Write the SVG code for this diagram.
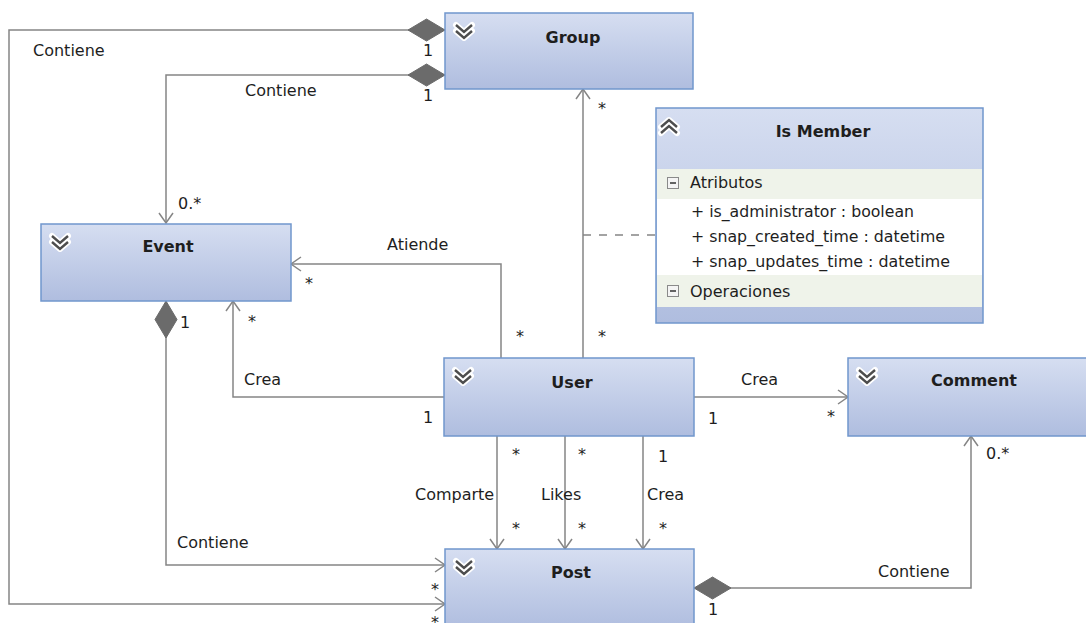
<svg xmlns="http://www.w3.org/2000/svg" xmlns:xlink="http://www.w3.org/1999/xlink" width="1086" height="623" viewBox="0 0 1086 623">
<defs>
<linearGradient id="boxg" x1="0" y1="0" x2="0" y2="1">
<stop offset="0" stop-color="#d6def1"/>
<stop offset="1" stop-color="#afbddf"/>
</linearGradient>
<marker id="arr" markerUnits="userSpaceOnUse" markerWidth="24" markerHeight="24" refX="0" refY="0" viewBox="-12 -12 24 24" orient="auto" overflow="visible">
<path d="M-10,-7 L0,0 L-10,7" fill="none" stroke="#858585" stroke-width="1.5"/>
</marker>
<marker id="dia" markerUnits="userSpaceOnUse" markerWidth="40" markerHeight="24" refX="0" refY="0" viewBox="0 -12 40 24" orient="auto" overflow="visible">
<path d="M0,0 L18.5,-11 L37,0 L18.5,11 Z" fill="#6b6b6b" stroke="#6b6b6b" stroke-width="1"/>
</marker>
<g id="chev">
<path d="M11,12 L19,19 L27,12 M11,18 L19,25 L27,18" fill="none" stroke="#ffffff" stroke-width="6" stroke-linejoin="round" stroke-linecap="round"/>
<path d="M11,12 L19,19 L27,12 M11,18 L19,25 L27,18" fill="none" stroke="#4d4d4d" stroke-width="2.4"/>
</g>
<g id="chevup">
<path d="M11,19 L19,12 L27,19 M11,25 L19,18 L27,25" fill="none" stroke="#ffffff" stroke-width="6" stroke-linejoin="round" stroke-linecap="round"/>
<path d="M11,19 L19,12 L27,19 M11,25 L19,18 L27,25" fill="none" stroke="#4d4d4d" stroke-width="2.4"/>
</g>
</defs>
<style>
.box{fill:url(#boxg);stroke:#7097cd;stroke-width:1.5}
.title{font-family:"DejaVu Sans",Verdana,sans-serif;font-weight:bold;font-size:16px;fill:#1e1e1e;text-anchor:middle}
.lbl{font-family:"DejaVu Sans",Verdana,sans-serif;font-size:16px;fill:#1e1e1e}
.mid{text-anchor:middle}
.ln{fill:none;stroke:#858585;stroke-width:1.5}
.comp{fill:#eff3ea}
.attr{font-family:"DejaVu Sans",Verdana,sans-serif;font-size:16px;fill:#1e1e1e}
</style>
<rect width="1086" height="623" fill="#ffffff"/>

<g id="connectors">
<path class="ln" d="M445,30 H9 V604 H445" marker-start="url(#dia)" marker-end="url(#arr)"/>
<path class="ln" d="M445,75 H166 V223" marker-start="url(#dia)" marker-end="url(#arr)"/>
<path class="ln" d="M583,358 V89" marker-end="url(#arr)"/>
<path class="ln" d="M583,235 H656" stroke-dasharray="8,8"/>
<path class="ln" d="M501,358 V264 H291" marker-end="url(#arr)"/>
<path class="ln" d="M444,397 H233 V301" marker-end="url(#arr)"/>
<path class="ln" d="M166,301 V565 H445" marker-start="url(#dia)" marker-end="url(#arr)"/>
<path class="ln" d="M694,397 H848" marker-end="url(#arr)"/>
<path class="ln" d="M497,436 V549" marker-end="url(#arr)"/>
<path class="ln" d="M565,436 V549" marker-end="url(#arr)"/>
<path class="ln" d="M643,436 V549" marker-end="url(#arr)"/>
<path class="ln" d="M694,588 H971 V436" marker-start="url(#dia)" marker-end="url(#arr)"/>

<text class="lbl" x="33" y="56">Contiene</text>
<text class="lbl mid" x="428" y="56">1</text>
<text class="lbl" x="245" y="96">Contiene</text>
<text class="lbl mid" x="428" y="101">1</text>
<text class="lbl" x="178" y="209">0.*</text>
<text class="lbl mid" x="602" y="114">*</text>
<text class="lbl mid" x="602" y="342">*</text>
<text class="lbl" x="387" y="250">Atiende</text>
<text class="lbl mid" x="309" y="289">*</text>
<text class="lbl mid" x="520" y="342">*</text>
<text class="lbl" x="244" y="385">Crea</text>
<text class="lbl mid" x="252" y="327">*</text>
<text class="lbl mid" x="428" y="423">1</text>
<text class="lbl" x="177" y="548">Contiene</text>
<text class="lbl mid" x="185" y="328">1</text>
<text class="lbl mid" x="435" y="595">*</text>
<text class="lbl mid" x="435" y="628">*</text>
<text class="lbl" x="741" y="385">Crea</text>
<text class="lbl mid" x="713" y="424">1</text>
<text class="lbl mid" x="831" y="422">*</text>
<text class="lbl" x="415" y="500">Comparte</text>
<text class="lbl mid" x="516" y="460">*</text>
<text class="lbl mid" x="516" y="534">*</text>
<text class="lbl" x="541" y="500">Likes</text>
<text class="lbl mid" x="582" y="460">*</text>
<text class="lbl mid" x="582" y="534">*</text>
<text class="lbl" x="647" y="500">Crea</text>
<text class="lbl mid" x="663" y="462">1</text>
<text class="lbl mid" x="663" y="534">*</text>
<text class="lbl" x="878" y="577">Contiene</text>
<text class="lbl mid" x="713" y="615">1</text>
<text class="lbl" x="986" y="459">0.*</text>
</g>

<g id="node-group">
<rect class="box" x="445" y="13" width="248" height="76"/>
<use xlink:href="#chev" href="#chev" transform="translate(445,13)"/>
<text class="title" x="573" y="43">Group</text>
</g>

<g id="node-event">
<rect class="box" x="41" y="224" width="250" height="77"/>
<use xlink:href="#chev" href="#chev" transform="translate(41,224)"/>
<text class="title" x="168" y="252">Event</text>
</g>

<g id="node-ismember">
<rect class="box" x="656" y="108" width="327" height="215"/>
<rect class="comp" x="657" y="169" width="325" height="30"/>
<rect x="657" y="199" width="325" height="76" fill="#ffffff"/>
<rect class="comp" x="657" y="275" width="325" height="32"/>
<use xlink:href="#chevup" href="#chevup" transform="translate(650,108)"/>
<text class="title" x="823" y="137">Is Member</text>
<rect x="667.5" y="177.5" width="11" height="11" fill="#f4f4f4" stroke="#8a8a8a" stroke-width="1"/>
<path d="M670,183 H676" stroke="#333" stroke-width="1.5"/>
<text class="attr" x="690" y="188">Atributos</text>
<text class="attr" x="691" y="217" textLength="223" lengthAdjust="spacingAndGlyphs">+ is_administrator : boolean</text>
<text class="attr" x="691" y="242" textLength="254" lengthAdjust="spacingAndGlyphs">+ snap_created_time : datetime</text>
<text class="attr" x="691" y="267" textLength="259" lengthAdjust="spacingAndGlyphs">+ snap_updates_time : datetime</text>
<rect x="667.5" y="285.5" width="11" height="11" fill="#f4f4f4" stroke="#8a8a8a" stroke-width="1"/>
<path d="M670,291 H676" stroke="#333" stroke-width="1.5"/>
<text class="attr" x="690" y="297">Operaciones</text>
</g>

<g id="node-user">
<rect class="box" x="444" y="358" width="250" height="78"/>
<use xlink:href="#chev" href="#chev" transform="translate(444,358)"/>
<text class="title" x="572" y="388">User</text>
</g>

<g id="node-comment">
<rect class="box" x="848" y="358" width="252" height="78"/>
<use xlink:href="#chev" href="#chev" transform="translate(848,358)"/>
<text class="title" x="974" y="386">Comment</text>
</g>

<g id="node-post">
<rect class="box" x="445" y="549" width="249" height="80"/>
<use xlink:href="#chev" href="#chev" transform="translate(445,549)"/>
<text class="title" x="571" y="578">Post</text>
</g>
</svg>
